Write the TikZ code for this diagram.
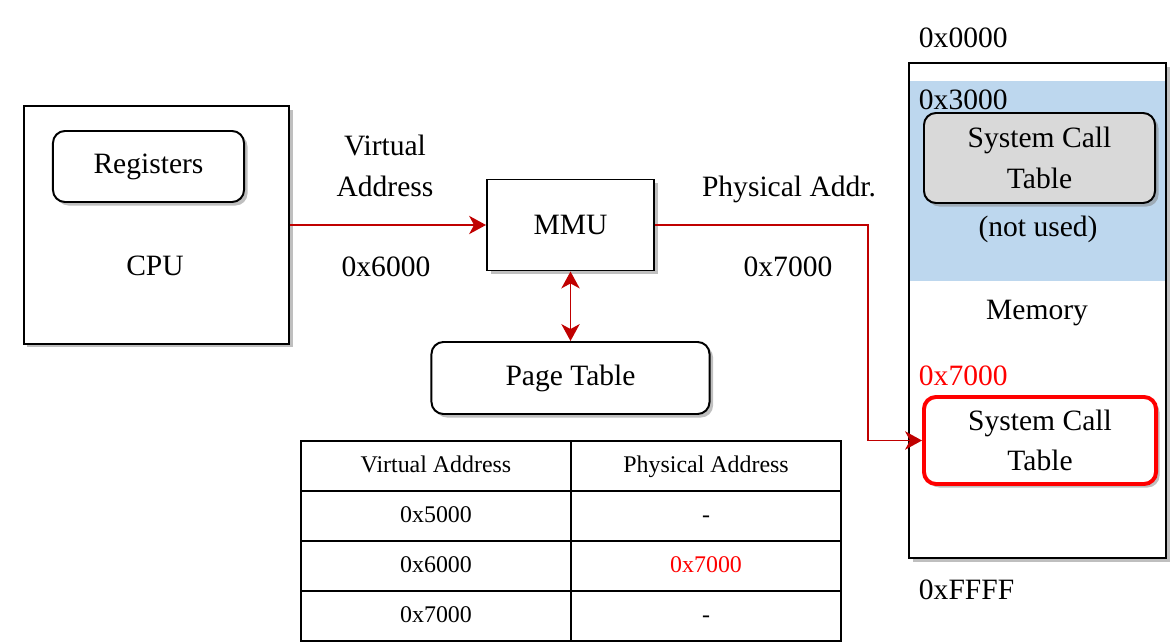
\documentclass[tikz,border=0pt]{standalone}
\usepackage{fontspec}
\setmainfont{Liberation Serif}
\usetikzlibrary{arrows.meta,positioning,shadows}

\definecolor{arrowred}{RGB}{192,0,0}
\definecolor{unusedblue}{RGB}{189,215,238}
\definecolor{unusedgray}{RGB}{217,217,217}

\tikzset{
  shade box/.style={drop shadow={opacity=0.5, shadow xshift=2.5pt, shadow yshift=-2.5pt}},
  box/.style={draw, line width=1.4pt, fill=white, inner sep=0pt, shade box},
  roundbox/.style={box, rounded corners=0.3cm},
  cell/.style={draw, line width=1.4pt, inner sep=0pt, outer sep=0pt, text height=0.95em, text depth=0pt,
    minimum width=6.75cm, minimum height=1.25cm, font=\fontsize{17}{20}\selectfont},
  tip/.tip={Stealth[length=12pt, width=13pt, inset=3.5pt]},
  link/.style={arrowred, line width=1.4pt, -tip},
}

\begin{document}
\begin{tikzpicture}[x=0.025cm, y=-0.025cm, font=\fontsize{21}{29}\selectfont]
\useasboundingbox (0,0) rectangle (1174,642);

% CPU with its registers
\node[box, minimum width=6.625cm, minimum height=5.925cm] (cpu) at (156.5,225) {};
\node[roundbox, minimum width=4.775cm, minimum height=1.775cm] (regs) at (148.5,166.5) {Registers};
\node (cpulbl) at (155,266) {CPU};

% MMU and page table
\node[box, minimum width=4.175cm, minimum height=2.275cm] (mmu) at (570.5,225) {MMU};
\node[roundbox, minimum width=6.95cm, minimum height=1.8cm] (pt) at (570.5,378) {Page Table};

\node[align=center] (valbl) at (385,166) {Virtual\\Address};
\node (vaddr) at (386,267) {0x6000};
\node (palbl) at (789,189) {Physical Addr.};
\node (paddr) at (788,267) {0x7000};

% memory
\fill[white, shade box] (909,63) rectangle (1166,558);
\fill[unusedblue] (910,81) rectangle (1166,281);
\draw[line width=1.4pt] (909,63) rectangle (1166,558);

\node[anchor=west] (a0) at (914,38) {0x0000};
\node[anchor=west] (a3) at (914,100) {0x3000};
\node[roundbox, fill=unusedgray, align=center, minimum width=5.775cm, minimum height=2.25cm] (oldsct) at (1039.5,158) {System Call\\Table};
\node (notused) at (1038,229) {(not used)};
\node (memlbl) at (1037,313) {Memory};
\node[anchor=west, red] (a7) at (914,376) {0x7000};
\node[roundbox, draw=red, line width=2.8pt, align=center, minimum width=5.8cm, minimum height=2.175cm] (sct) at (1040,440.5) {System Call\\Table};
\node[anchor=west] (af) at (914,590) {0xFFFF};

% connectors
\coordinate (bend) at (868,225);
\draw[link] (cpu.east) -- (mmu.west);
\draw[link] (mmu.east) -- (bend) |- (sct.west);
\draw[link, tip-tip] (mmu.south) -- (pt.north);

% page table entries
\foreach \va/\pa [count=\r] in {Virtual Address/Physical Address, 0x5000/-, 0x6000/\textcolor{red}{0x7000}, 0x7000/-} {
  \node[cell] (va\r) at (436,416+50*\r) {\va};
  \node[cell, right=0pt of va\r] (pa\r) {\pa};
}
\end{tikzpicture}
\end{document}
